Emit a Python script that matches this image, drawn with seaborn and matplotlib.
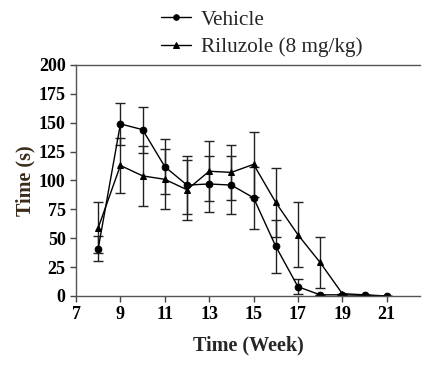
import numpy as np
import pandas as pd
import matplotlib
matplotlib.use("Agg")
import matplotlib.pyplot as plt
import seaborn as sns

weeks = [8, 9, 10, 11, 12, 13, 14, 15, 16, 17, 18, 19, 20, 21]
vehicle = [41, 149, 144, 112, 96, 97, 96, 85, 43, 8, 1, 1, 0.5, 0]
vehicle_err = [11, 18, 20, 24, 25, 24, 25, 27, 23, 6.5, 0, 0, 0, 0]
riluzole = [59, 113, 104, 101, 92, 108, 107, 114, 81, 53, 29, 2, 1, 0]
riluzole_err = [22, 24, 26, 26, 26, 26, 24, 28, 30, 28, 22, 0, 0, 0]

sns.set_style("ticks")
plt.rcParams["font.family"] = ["Liberation Serif", "DejaVu Serif"]

df = pd.DataFrame({
    "week": weeks * 2,
    "time": vehicle + riluzole,
    "group": ["Vehicle"] * len(weeks) + ["Riluzole (8 mg/kg)"] * len(weeks),
})

fig = plt.figure(figsize=(4.43, 3.68), dpi=100)
ax = fig.add_axes([0.1716, 0.1957, 0.7765, 0.6277])

ax.errorbar(weeks, vehicle, yerr=vehicle_err, fmt="none", ecolor="#222222",
            elinewidth=1, capsize=3.5, capthick=1)
ax.errorbar(weeks, riluzole, yerr=riluzole_err, fmt="none", ecolor="#222222",
            elinewidth=1, capsize=3.5, capthick=1)

sns.lineplot(data=df, x="week", y="time", hue="group", style="group",
             markers={"Vehicle": "o", "Riluzole (8 mg/kg)": "^"}, dashes=False,
             palette={"Vehicle": "black", "Riluzole (8 mg/kg)": "black"},
             markersize=4.8, linewidth=1, markeredgecolor="black", ax=ax)

ax.set_xlim(7, 22.5)
ax.set_ylim(0, 200)
ax.set_xticks(range(7, 22, 2))
ax.set_yticks(range(0, 201, 25))
ax.tick_params(direction="out", length=4, width=1, colors="#444444",
               labelsize=13, labelcolor="black")
for lab in ax.get_xticklabels() + ax.get_yticklabels():
    lab.set_fontweight("bold")

for s in ["left", "bottom", "top"]:
    ax.spines[s].set_color("#555555")
    ax.spines[s].set_linewidth(1)
ax.spines["right"].set_visible(False)

ax.set_xlabel("Time (Week)", fontsize=14.5, fontweight="bold", labelpad=9)
ax.set_ylabel("Time (s)", fontsize=14.5, fontweight="bold", color="#3a2a1a", labelpad=2)

h, l = ax.get_legend_handles_labels()
for hh in h:
    hh.set_markersize(4)
ax.get_legend().remove()
fig.legend(h, l, loc="upper left", bbox_to_anchor=(0.35, 0.99), frameon=False,
           fontsize=15.3, handlelength=1.4, handletextpad=0.45, labelspacing=0.35,
           borderaxespad=0.0, borderpad=0.3)

fig.savefig("out.png", dpi=100)
